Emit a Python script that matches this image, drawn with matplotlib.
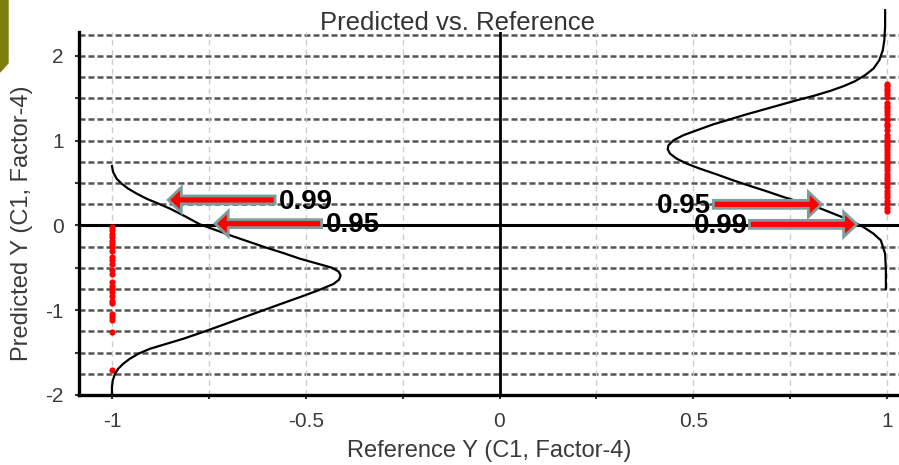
import matplotlib.pyplot as plt
import numpy as np
from matplotlib.patches import FancyArrow, Polygon

plt.rcParams['font.family'] = ['Liberation Sans', 'DejaVu Sans']

# reference classes
ref_neg = -1
ref_pos = 1

# predicted Y of the samples in each class
pred_neg = [-0.02, -0.06, -0.10, -0.14, -0.18, -0.22, -0.26, -0.30, -0.37, -0.41,
            -0.45, -0.53, -0.57, -0.67, -0.71, -0.75, -0.79, -0.83, -0.89, -0.92,
            -1.04, -1.08, -1.12, -1.26, -1.71]
pred_pos = [1.67, 1.64, 1.61, 1.58, 1.55, 1.51, 1.44, 1.41, 1.38, 1.35, 1.31,
            1.27, 1.24, 1.20, 1.17, 1.13, 1.06, 1.03, 0.99, 0.96, 0.93, 0.90,
            0.86, 0.83, 0.80, 0.76, 0.72, 0.69, 0.65, 0.61, 0.57, 0.53, 0.49,
            0.45, 0.41, 0.37, 0.33, 0.29, 0.25, 0.21, 0.17]

# density curves
left_y = [0.700, 0.629, 0.551, 0.492, 0.433, 0.374, 0.315, 0.256, 0.197, 0.118,
          0.012, -0.059, -0.130, -0.197, -0.264, -0.326, -0.393, -0.452, -0.500,
          -0.545, -0.590, -0.640, -0.690, -0.767, -0.846, -0.916, -0.987, -1.058,
          -1.129, -1.200, -1.270, -1.337, -1.396, -1.455, -1.514, -1.573, -1.632,
          -1.691, -1.750, -1.829, -1.908, -2.0]
left_x = [-1.0, -0.997, -0.988, -0.975, -0.958, -0.936, -0.911, -0.880, -0.850,
          -0.816, -0.773, -0.730, -0.687, -0.644, -0.601, -0.558, -0.515, -0.469,
          -0.432, -0.415, -0.410, -0.414, -0.428, -0.468, -0.515, -0.558, -0.601,
          -0.644, -0.687, -0.730, -0.773, -0.816, -0.859, -0.902, -0.932, -0.954,
          -0.971, -0.984, -0.992, -0.998, -1.0, -1.0]
right_y = [2.537, 2.340, 2.183, 2.065, 1.947, 1.849, 1.770, 1.699, 1.640, 1.585,
           1.526, 1.475, 1.420, 1.365, 1.310, 1.251, 1.192, 1.121, 1.062, 1.003,
           0.944, 0.897, 0.846, 0.787, 0.728, 0.669, 0.602, 0.531, 0.464, 0.401,
           0.334, 0.275, 0.216, 0.138, 0.059, -0.020, -0.098, -0.177, -0.334,
           -0.531, -0.747]
right_x = [0.995, 0.995, 0.993, 0.989, 0.980, 0.965, 0.943, 0.917, 0.887, 0.853,
           0.810, 0.767, 0.724, 0.681, 0.638, 0.595, 0.552, 0.509, 0.474, 0.449,
           0.436, 0.434, 0.440, 0.457, 0.483, 0.517, 0.560, 0.603, 0.647, 0.690,
           0.733, 0.776, 0.819, 0.862, 0.905, 0.939, 0.965, 0.984, 0.995, 0.997,
           0.997]

# threshold arrows
arrow_labels = ['0.99', '0.95', '0.95', '0.99']
arrow_tail = [-0.579, -0.459, 0.552, 0.645]
arrow_tip = [-0.855, -0.734, 0.831, 0.922]
arrow_y = [0.30, 0.02, 0.248, 0.012]

fig = plt.figure(figsize=(8.99, 4.65), dpi=100)
ax = fig.add_axes([79 / 899, 70 / 465, 841 / 899, 363 / 465])
ax.set_xlim(-1.085, 1.085)
ax.set_ylim(-2, 2.28)

# grid
for gy in np.arange(-1.75, 2.3, 0.25):
    ax.axhline(gy, color='#555555', lw=1.8, ls=(0, (2.4, 1.2)), zorder=1)
for gx in np.arange(-1, 1.01, 0.25):
    ax.axvline(gx, color='#cccccc', lw=1, ls=(0, (4, 3)), zorder=1)
ax.axhline(0, color='black', lw=2.2, zorder=2)
ax.axvline(0, color='black', lw=2, zorder=2)

ax.scatter([ref_neg] * len(pred_neg), pred_neg, s=20, color='red', zorder=3, lw=0)
ax.scatter([ref_pos] * len(pred_pos), pred_pos, s=20, color='red', zorder=3, lw=0)

ax.plot(left_x, left_y, color='black', lw=1.6, zorder=4, solid_joinstyle='round')
ax.plot(right_x, right_y, color='black', lw=1.6, zorder=4, clip_on=False,
        solid_joinstyle='round')

for lab, t0, t1, ay in zip(arrow_labels, arrow_tail, arrow_tip, arrow_y):
    ax.add_patch(FancyArrow(t0, ay, t1 - t0, 0, width=0.094, head_width=0.295,
                            head_length=0.034, length_includes_head=True,
                            fc='red', ec='#7f9c9c', lw=2, zorder=5))
    if t1 < t0:
        ax.text(t0 + 0.01, ay - 0.02, lab, ha='left', va='center',
                fontsize=20, fontweight='bold', zorder=6)
    else:
        ax.text(t0 - 0.005, ay - 0.02, lab, ha='right', va='center',
                fontsize=20, fontweight='bold', zorder=6)

ax.spines['top'].set_visible(False)
ax.spines['right'].set_visible(False)
ax.spines['left'].set_linewidth(2.4)
ax.spines['bottom'].set_linewidth(2.4)

ax.set_xticks([-1, -0.5, 0, 0.5, 1])
ax.set_xticklabels(['-1', '-0.5', '0', '0.5', '1'])
ax.set_xticks(np.arange(-1, 1.01, 0.25), minor=True)
ax.set_yticks([-2, -1, 0, 1, 2])
ax.set_yticklabels(['-2', '-1', '0', '1', '2'])
ax.set_yticks(np.arange(-2, 2.01, 0.5), minor=True)
ax.tick_params(which='both', direction='out', length=3, width=1.5, color='#333333',
               labelsize=15, labelcolor='#3a3a3a')
ax.tick_params(axis='x', pad=9)
ax.tick_params(axis='y', pad=8)

fig.text(458 / 899, 1 - 23 / 465, 'Predicted vs. Reference', ha='center', va='center',
         fontsize=18.5, color='#333333')
fig.text(489 / 899, 1 - 451 / 465, 'Reference Y (C1, Factor-4)', ha='center', va='center',
         fontsize=17, color='#3a3a3a')
fig.text(22 / 899, 1 - 223 / 465, 'Predicted Y (C1, Factor-4)', ha='center', va='center',
         rotation=90, fontsize=17, color='#3a3a3a')

# slide decoration in the corner
fig.patches.append(Polygon([(0, 1), (8 / 899, 1), (8 / 899, 1 - 63 / 465), (0, 1 - 72 / 465)],
                           closed=True, transform=fig.transFigure, color='#7d7d10'))

fig.savefig('out.png', dpi=100)
